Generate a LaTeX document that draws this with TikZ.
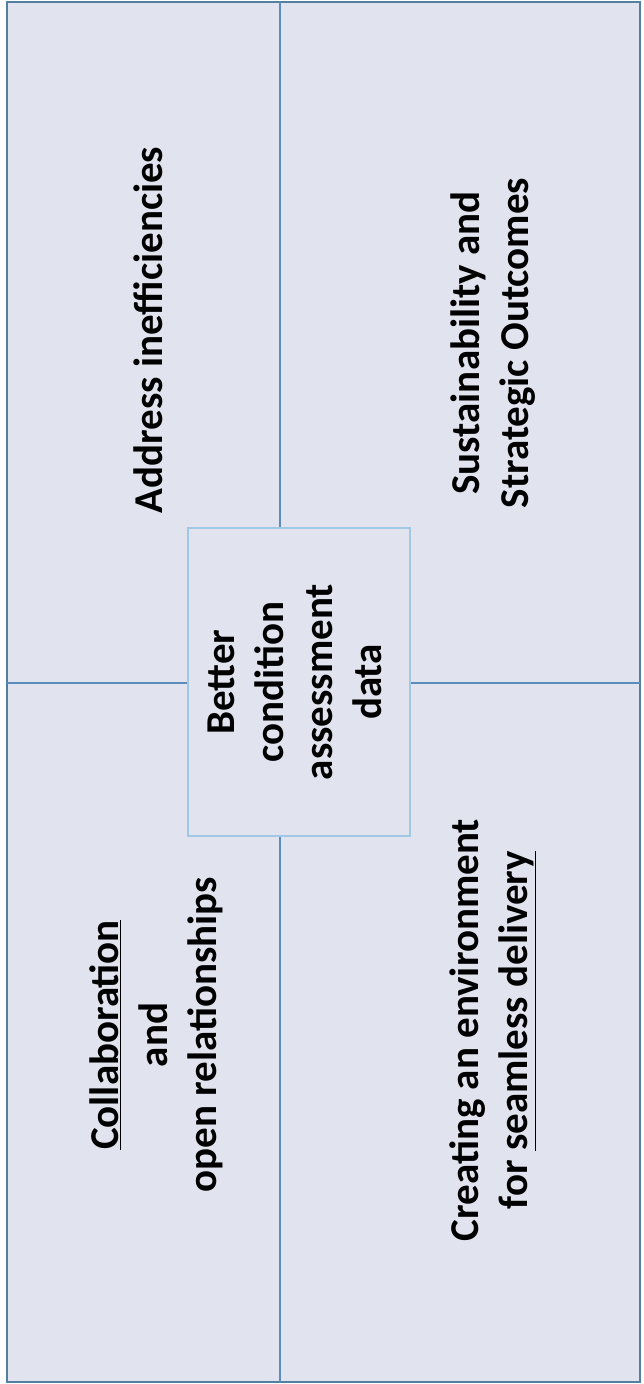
\documentclass[tikz,border=0pt]{standalone}
\usepackage{fontspec}
\setmainfont{Carlito}
\usetikzlibrary{positioning}
\definecolor{panelfill}{RGB}{225,228,238}
\definecolor{frameblue}{RGB}{84,128,160}
\definecolor{splitblue}{RGB}{90,140,190}
\definecolor{coreblue}{RGB}{160,200,228}
\tikzset{
	quadtext/.style={rotate=90, align=center, font=\fontsize{41}{49}\selectfont\bfseries, inner sep=0pt},
	corebox/.style={draw=coreblue, line width=1.6pt, fill=panelfill, minimum width=222pt, minimum height=308pt, inner sep=0pt}
}

\begin{document}
\begin{tikzpicture}[x=1pt, y=1pt]
	\useasboundingbox (0,0) rectangle (643,1384);
	% Outer frame
	\coordinate (sw) at (7,2);
	\coordinate (ne) at (640,1382);
	\fill[white] (0,0) rectangle (643,1384);
	\draw[frameblue, fill=panelfill, line width=1.6pt] (sw) rectangle (ne);
	% Dividers
	\coordinate (topmid) at (280,1382);
	\coordinate (botmid) at (280,2);
	\coordinate (leftmid) at (7,701);
	\coordinate (rightmid) at (640,701);
	\node[corebox] (core) at (299,702) {};
	\draw[splitblue, line width=1.4pt] (topmid) -- (topmid |- core.north);
	\draw[splitblue, line width=1.4pt] (botmid) -- (botmid |- core.south);
	\draw[splitblue, line width=1.4pt] (leftmid) -- (leftmid -| core.west);
	\draw[splitblue, line width=1.4pt] (rightmid) -- (rightmid -| core.east);
	% Texts
	\node[quadtext] (coretext) at (295,702) {Better\\condition\\assessment\\data};
	\node[quadtext] (ineff) at (148,1054) {Address inefficiencies};
	\node[quadtext] (sustain) at (493,1041) {Sustainability and\\Strategic Outcomes};
	\node[quadtext] (collab) at (156,349) {\underline{Collaboration}\\and\\open relationships};
	\node[quadtext] (seamless) at (493,354) {Creating an environment\\for \underline{seamless delivery}};
\end{tikzpicture}
\end{document}
